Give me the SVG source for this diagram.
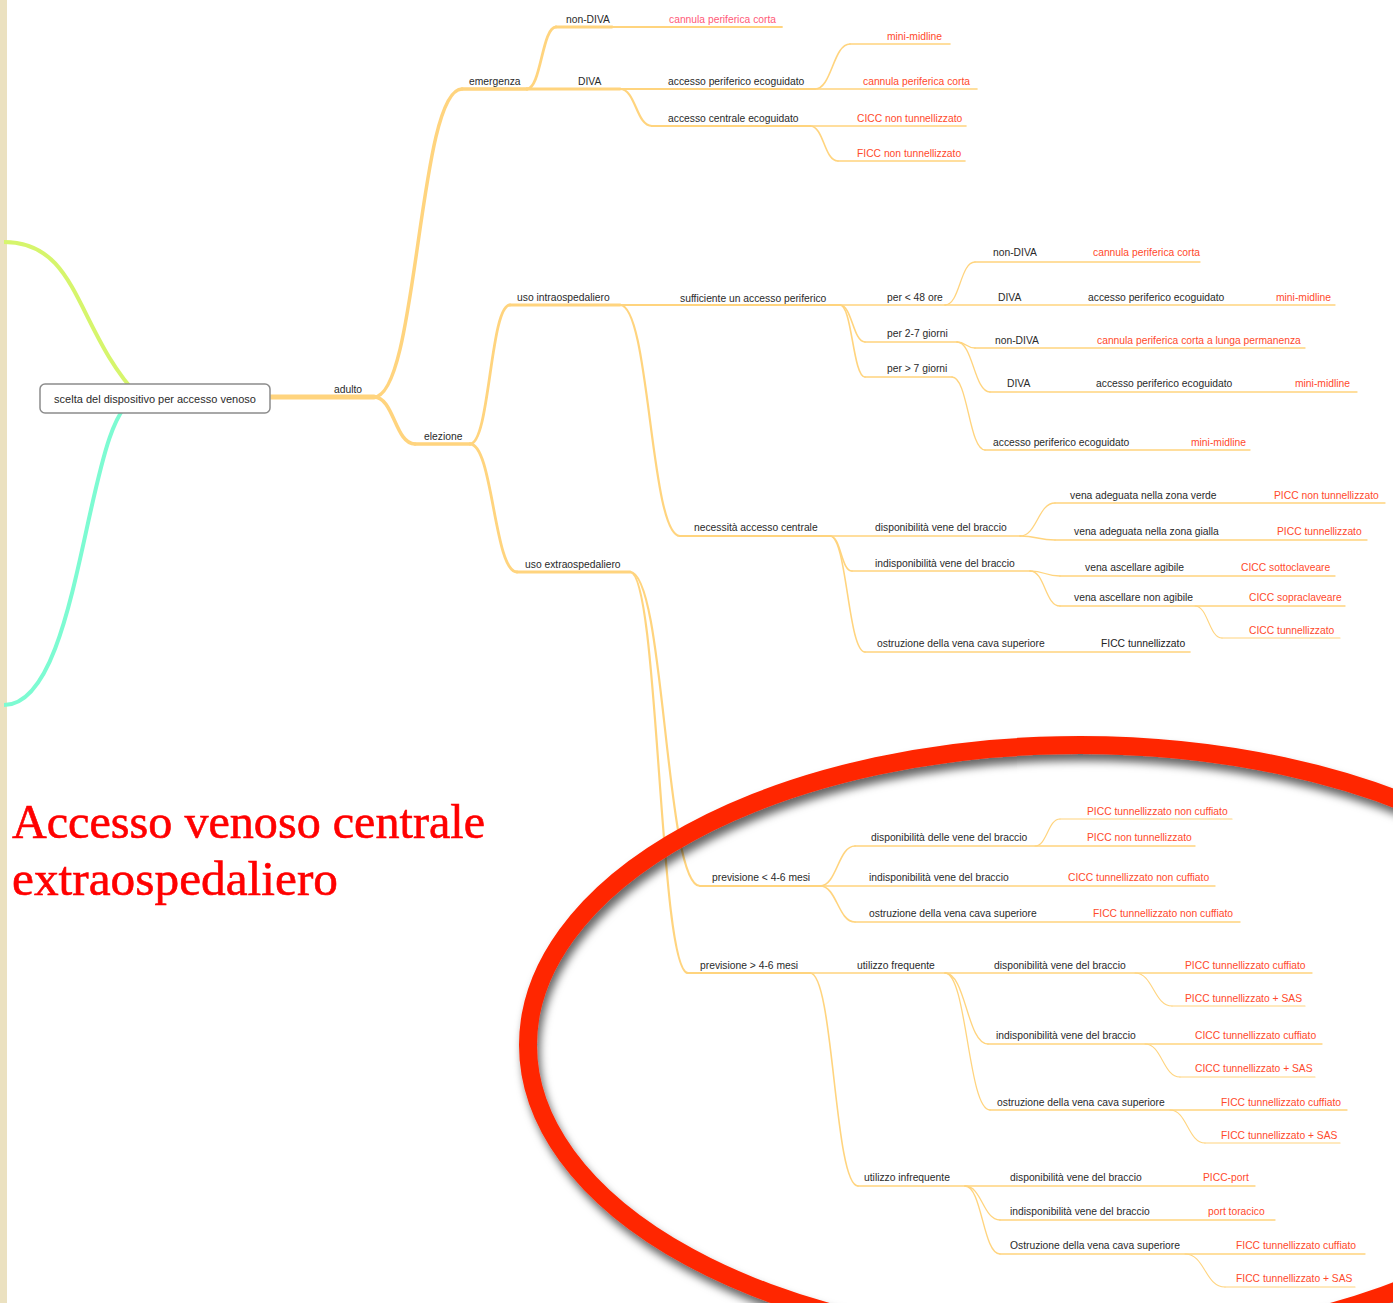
<svg xmlns="http://www.w3.org/2000/svg" width="1393" height="1303" viewBox="0 0 1393 1303">
<defs>
<style>
text{font-family:"Liberation Sans",Arial,sans-serif;font-size:10.3px}
.t{fill:#2a2a2a}
.r{fill:#ff4a2c}
.p{fill:#ff5a78}
.k{fill:#222}
.u{fill:none;stroke:#ffd47e;stroke-linecap:round}
.c{fill:none;stroke:#ffd47e;stroke-linecap:round}
.title{font-family:"Liberation Serif","Times New Roman",serif;font-size:48px;fill:#ff0000;stroke:#ff0000;stroke-width:0.6}
</style>
<filter id="sh" x="-10%" y="-15%" width="125%" height="135%">
<feDropShadow dx="3" dy="7" stdDeviation="4.5" flood-color="#000" flood-opacity="0.6"/>
</filter>
</defs>
<rect x="0" y="0" width="1393" height="1303" fill="#ffffff"/>
<rect x="0" y="0" width="7" height="1303" fill="#ebe1c0"/>

<g id="side-branches">
<path d="M4,242 C80,242 75,330 140,398" fill="none" stroke="#d6f56c" stroke-width="4"/>
<path d="M4,705 C85,705 85,398 140,398" fill="none" stroke="#7dfbd2" stroke-width="4"/>
</g>

<g id="connectors">
<path class="c" stroke-width="5" d="M270,397 L374,397"/>
<path class="c" stroke-width="3.5" d="M374,397 C418,397 418,89 462,89"/>
<path class="c" stroke-width="3.5" d="M374,397 C394,397 395,444 415,444"/>
<path class="c" stroke-width="2.8" d="M527,89 C541,89 542,27 556,27"/>
<path class="c" stroke-width="2.2" d="M620,89 C636,89 636,126 652,126"/>
<path class="c" stroke-width="1.6" d="M815,89 C832,89 833,44 850,44"/>
<path class="c" stroke-width="1.6" d="M810,126 C824,126 824,161 838,161"/>
<path class="c" stroke-width="2.8" d="M470,444 C490,444 490,305 510,305"/>
<path class="c" stroke-width="2.8" d="M470,444 C493,444 494,572 517,572"/>
<path class="c" stroke-width="2.2" d="M620,305 C650,305 650,536 680,536"/>
<path class="c" stroke-width="1.6" d="M840,305 C852,305 853,342 865,342"/>
<path class="c" stroke-width="1.6" d="M840,305 C852,305 853,377 865,377"/>
<path class="c" stroke-width="1.3" d="M945,305 C960,305 960,262 975,262"/>
<path class="c" stroke-width="1.3" d="M957,342 C966,342 966,348 975,348"/>
<path class="c" stroke-width="1.3" d="M957,342 C973,342 974,392 990,392"/>
<path class="c" stroke-width="1.3" d="M952,377 C968,377 969,450 985,450"/>
<path class="c" stroke-width="1.3" d="M1020,536 C1037,536 1038,503 1055,503"/>
<path class="c" stroke-width="1.3" d="M1020,536 C1037,536 1038,540 1055,540"/>
<path class="c" stroke-width="1.6" d="M830,536 C841,536 841,571 852,571"/>
<path class="c" stroke-width="1.6" d="M830,536 C847,536 848,652 865,652"/>
<path class="c" stroke-width="1.3" d="M1030,571 C1045,571 1045,576 1060,576"/>
<path class="c" stroke-width="1.3" d="M1030,571 C1045,571 1045,606 1060,606"/>
<path class="c" stroke-width="1.1" d="M1195,606 C1208,606 1209,638 1222,638"/>
<path class="c" stroke-width="2.2" d="M630,572 C665,572 665,886 700,886"/>
<path class="c" stroke-width="2.2" d="M630,572 C659,572 659,973 688,973"/>
<path class="c" stroke-width="1.6" d="M820,886 C837,886 838,846 855,846"/>
<path class="c" stroke-width="1.2" d="M1035,846 C1047,846 1048,819 1060,819"/>
<path class="c" stroke-width="1.6" d="M820,886 C837,886 838,922 855,922"/>
<path class="c" stroke-width="1.6" d="M810,973 C834,973 834,1186 858,1186"/>
<path class="c" stroke-width="1.3" d="M945,973 C966,973 967,1044 988,1044"/>
<path class="c" stroke-width="1.3" d="M945,973 C967,973 968,1110 990,1110"/>
<path class="c" stroke-width="1.1" d="M1135,973 C1153,973 1154,1006 1172,1006"/>
<path class="c" stroke-width="1.1" d="M1145,1044 C1162,1044 1163,1077 1180,1077"/>
<path class="c" stroke-width="1.1" d="M1170,1110 C1187,1110 1188,1143 1205,1143"/>
<path class="c" stroke-width="1.3" d="M965,1186 C982,1186 983,1220 1000,1220"/>
<path class="c" stroke-width="1.3" d="M965,1186 C982,1186 983,1254 1000,1254"/>
<path class="c" stroke-width="1.1" d="M1185,1254 C1205,1254 1205,1287 1225,1287"/>
</g>

<g id="root">
<rect x="40" y="384" width="230" height="29" rx="5" fill="#fff" stroke="#8c8c8c" stroke-width="1.5"/>
<text class="t" x="155" y="402.5" text-anchor="middle" style="font-size:11px">scelta del dispositivo per accesso venoso</text>
</g>

<g id="n-adulto"><text class="t" x="334" y="393">adulto</text></g>
<g id="n-emergenza"><path class="u" stroke-width="3.5" d="M462,89 H527"/><text class="t" x="469" y="85">emergenza</text></g>
<g id="n-elezione"><path class="u" stroke-width="3.5" d="M415,444 H470"/><text class="t" x="424" y="440">elezione</text></g>

<g id="n-em-nondiva"><path class="u" stroke-width="2.8" d="M556,27 H612"/><text class="t" x="566" y="23">non-DIVA</text></g>
<g id="n-em-nondiva-cannula"><path class="u" stroke-width="1.8" d="M612,27 H782"/><text class="p" x="669" y="23">cannula periferica corta</text></g>
<g id="n-em-diva"><path class="u" stroke-width="2.8" d="M527,89 H620"/><text class="t" x="578" y="85">DIVA</text></g>
<g id="n-em-app"><path class="u" stroke-width="2.2" d="M620,89 H815"/><text class="t" x="668" y="85">accesso periferico ecoguidato</text></g>
<g id="n-em-app-mini"><path class="u" stroke-width="1.6" d="M850,44 H950"/><text class="r" x="887" y="40">mini-midline</text></g>
<g id="n-em-app-cannula"><path class="u" stroke-width="1.6" d="M815,89 H977"/><text class="r" x="863" y="85">cannula periferica corta</text></g>
<g id="n-em-ace"><path class="u" stroke-width="2.2" d="M652,126 H810"/><text class="t" x="668" y="122">accesso centrale ecoguidato</text></g>
<g id="n-em-ace-cicc"><path class="u" stroke-width="1.6" d="M810,126 H966"/><text class="r" x="857" y="122">CICC non tunnellizzato</text></g>
<g id="n-em-ace-ficc"><path class="u" stroke-width="1.6" d="M838,161 H965"/><text class="r" x="857" y="157">FICC non tunnellizzato</text></g>

<g id="n-intra"><path class="u" stroke-width="2.8" d="M510,305 H620"/><text class="t" x="517" y="301">uso intraospedaliero</text></g>
<g id="n-suff"><path class="u" stroke-width="2.2" d="M620,305 H840"/><text class="t" x="680" y="302">sufficiente un accesso periferico</text></g>
<g id="n-48"><path class="u" stroke-width="1.6" d="M840,305 H945"/><text class="t" x="887" y="301">per &lt; 48 ore</text></g>
<g id="n-48-nondiva"><path class="u" stroke-width="1.3" d="M975,262 H1200"/><text class="t" x="993" y="256">non-DIVA</text><text class="r" x="1093" y="256">cannula periferica corta</text></g>
<g id="n-48-diva"><path class="u" stroke-width="1.3" d="M945,305 H1335"/><text class="t" x="998" y="301">DIVA</text><text class="t" x="1088" y="301">accesso periferico ecoguidato</text><text class="r" x="1276" y="301">mini-midline</text></g>
<g id="n-27"><path class="u" stroke-width="1.6" d="M865,342 H957"/><text class="t" x="887" y="337">per 2-7 giorni</text></g>
<g id="n-27-nondiva"><path class="u" stroke-width="1.3" d="M975,348 H1305"/><text class="t" x="995" y="344">non-DIVA</text><text class="r" x="1097" y="344">cannula periferica corta a lunga permanenza</text></g>
<g id="n-27-diva"><path class="u" stroke-width="1.3" d="M990,392 H1357"/><text class="t" x="1007" y="387">DIVA</text><text class="t" x="1096" y="387">accesso periferico ecoguidato</text><text class="r" x="1295" y="387">mini-midline</text></g>
<g id="n-7"><path class="u" stroke-width="1.6" d="M865,377 H952"/><text class="t" x="887" y="372">per &gt; 7 giorni</text></g>
<g id="n-7-app"><path class="u" stroke-width="1.3" d="M985,450 H1250"/><text class="t" x="993" y="446">accesso periferico ecoguidato</text><text class="r" x="1191" y="446">mini-midline</text></g>

<g id="n-nec"><path class="u" stroke-width="2.2" d="M680,536 H830"/><text class="t" x="694" y="531">necessità accesso centrale</text></g>
<g id="n-nec-disp"><path class="u" stroke-width="1.6" d="M830,536 H1020"/><text class="t" x="875" y="531">disponibilità vene del braccio</text></g>
<g id="n-nec-verde"><path class="u" stroke-width="1.3" d="M1055,503 H1385"/><text class="t" x="1070" y="499">vena adeguata nella zona verde</text><text class="r" x="1274" y="499">PICC non tunnellizzato</text></g>
<g id="n-nec-gialla"><path class="u" stroke-width="1.3" d="M1055,540 H1367"/><text class="t" x="1074" y="535">vena adeguata nella zona gialla</text><text class="r" x="1277" y="535">PICC tunnellizzato</text></g>
<g id="n-nec-indisp"><path class="u" stroke-width="1.6" d="M852,571 H1030"/><text class="t" x="875" y="567">indisponibilità vene del braccio</text></g>
<g id="n-nec-agibile"><path class="u" stroke-width="1.3" d="M1060,576 H1335"/><text class="t" x="1085" y="571">vena ascellare agibile</text><text class="r" x="1241" y="571">CICC sottoclaveare</text></g>
<g id="n-nec-nonagibile"><path class="u" stroke-width="1.3" d="M1060,606 H1345"/><text class="t" x="1074" y="601">vena ascellare non agibile</text><text class="r" x="1249" y="601">CICC sopraclaveare</text></g>
<g id="n-nec-cicc-tun"><path class="u" stroke-width="1.1" d="M1222,638 H1340"/><text class="r" x="1249" y="634">CICC tunnellizzato</text></g>
<g id="n-nec-ostr"><path class="u" stroke-width="1.6" d="M865,652 H1190"/><text class="t" x="877" y="647">ostruzione della vena cava superiore</text><text class="k" x="1101" y="647">FICC tunnellizzato</text></g>

<g id="n-extra"><path class="u" stroke-width="2.8" d="M517,572 H630"/><text class="t" x="525" y="568">uso extraospedaliero</text></g>
<g id="n-prev-lt"><path class="u" stroke-width="2" d="M700,886 H820"/><text class="t" x="712" y="881">previsione &lt; 4-6 mesi</text></g>
<g id="n-lt-disp"><path class="u" stroke-width="1.4" d="M855,846 H1195"/><text class="t" x="871" y="841">disponibilità delle vene del braccio</text><text class="r" x="1087" y="841">PICC non tunnellizzato</text></g>
<g id="n-lt-picc-tnc"><path class="u" stroke-width="1.2" d="M1060,819 H1232"/><text class="r" x="1087" y="815">PICC tunnellizzato non cuffiato</text></g>
<g id="n-lt-indisp"><path class="u" stroke-width="1.4" d="M820,886 H1215"/><text class="t" x="869" y="881">indisponibilità vene del braccio</text><text class="r" x="1068" y="881">CICC tunnellizzato non cuffiato</text></g>
<g id="n-lt-ostr"><path class="u" stroke-width="1.4" d="M855,922 H1240"/><text class="t" x="869" y="917">ostruzione della vena cava superiore</text><text class="r" x="1093" y="917">FICC tunnellizzato non cuffiato</text></g>

<g id="n-prev-gt"><path class="u" stroke-width="2" d="M688,973 H810"/><text class="t" x="700" y="969">previsione &gt; 4-6 mesi</text></g>
<g id="n-freq"><path class="u" stroke-width="1.6" d="M810,973 H945"/><text class="t" x="857" y="969">utilizzo frequente</text></g>
<g id="n-freq-disp"><path class="u" stroke-width="1.3" d="M945,973 H1312"/><text class="t" x="994" y="969">disponibilità vene del braccio</text><text class="r" x="1185" y="969">PICC tunnellizzato cuffiato</text></g>
<g id="n-freq-picc-sas"><path class="u" stroke-width="1.1" d="M1172,1006 H1305"/><text class="r" x="1185" y="1002">PICC tunnellizzato + SAS</text></g>
<g id="n-freq-indisp"><path class="u" stroke-width="1.3" d="M988,1044 H1322"/><text class="t" x="996" y="1039">indisponibilità vene del braccio</text><text class="r" x="1195" y="1039">CICC tunnellizzato cuffiato</text></g>
<g id="n-freq-cicc-sas"><path class="u" stroke-width="1.1" d="M1180,1077 H1315"/><text class="r" x="1195" y="1072">CICC tunnellizzato + SAS</text></g>
<g id="n-freq-ostr"><path class="u" stroke-width="1.3" d="M990,1110 H1347"/><text class="t" x="997" y="1106">ostruzione della vena cava superiore</text><text class="r" x="1221" y="1106">FICC tunnellizzato cuffiato</text></g>
<g id="n-freq-ficc-sas"><path class="u" stroke-width="1.1" d="M1205,1143 H1340"/><text class="r" x="1221" y="1139">FICC tunnellizzato + SAS</text></g>
<g id="n-infreq"><path class="u" stroke-width="1.6" d="M858,1186 H965"/><text class="t" x="864" y="1181">utilizzo infrequente</text></g>
<g id="n-infreq-disp"><path class="u" stroke-width="1.3" d="M965,1186 H1255"/><text class="t" x="1010" y="1181">disponibilità vene del braccio</text><text class="r" x="1203" y="1181">PICC-port</text></g>
<g id="n-infreq-indisp"><path class="u" stroke-width="1.3" d="M1000,1220 H1275"/><text class="t" x="1010" y="1215">indisponibilità vene del braccio</text><text class="r" x="1208" y="1215">port toracico</text></g>
<g id="n-infreq-ostr"><path class="u" stroke-width="1.3" d="M1000,1254 H1365"/><text class="t" x="1010" y="1249">Ostruzione della vena cava superiore</text><text class="r" x="1236" y="1249">FICC tunnellizzato cuffiato</text></g>
<g id="n-infreq-ficc-sas"><path class="u" stroke-width="1.1" d="M1225,1287 H1355"/><text class="r" x="1236" y="1282">FICC tunnellizzato + SAS</text></g>

<g id="highlight">
<ellipse cx="1080" cy="1045" rx="552" ry="300" fill="none" stroke="#ff2600" stroke-width="18" filter="url(#sh)"/>
</g>

<g id="title">
<text class="title" x="12" y="838" textLength="473" lengthAdjust="spacingAndGlyphs">Accesso venoso centrale</text>
<text class="title" x="12" y="895" textLength="326" lengthAdjust="spacingAndGlyphs">extraospedaliero</text>
</g>
</svg>
